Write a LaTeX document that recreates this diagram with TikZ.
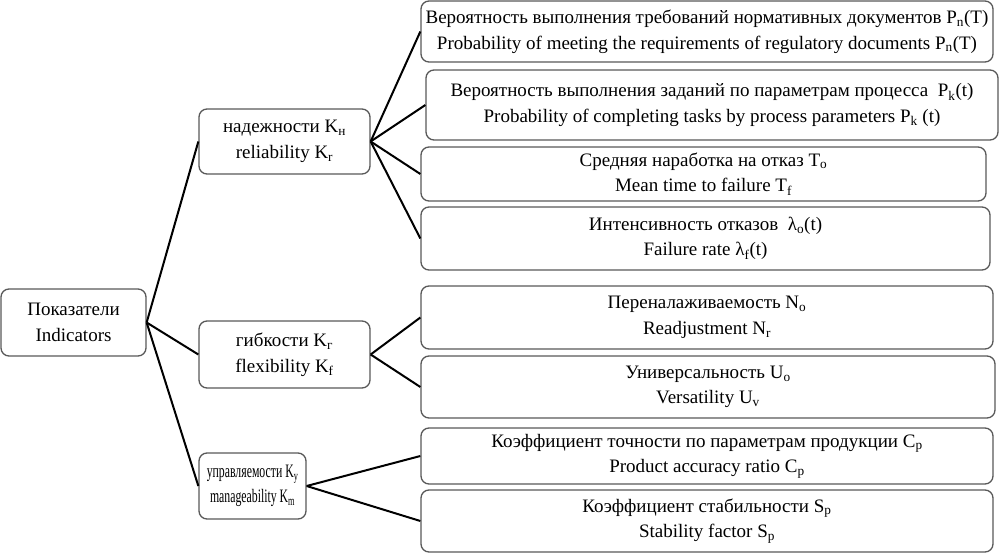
\documentclass[tikz,border=0pt]{standalone}
\usepackage{fontspec}
\setmainfont{Liberation Serif}
\usepackage{graphicx}
\usepackage{tikz}
\usetikzlibrary{positioning,calc}

\newcommand{\sub}[1]{\textsubscript{#1}}
\newcommand{\narrow}[1]{\scalebox{0.62}[1]{#1}}

\tikzset{
    box/.style={draw=black!65, line width=1.3pt, rounded corners=8pt, fill=white,
        align=center, inner sep=0pt, font=\fontsize{19}{25.5}\selectfont},
    link/.style={line width=2pt, black}
}

\begin{document}
\begin{tikzpicture}[x=1pt, y=-1pt]
    \useasboundingbox (0,0) rectangle (999,554);

    % root and the three groups
    \node[box, minimum width=145pt, minimum height=67pt] (ind) at (73.5,322.5) {Показатели\\Indicators};
    \node[box, minimum width=171pt, minimum height=65pt] (rel) at (284.5,141.5) {надежности K\sub{н}\\reliability K\sub{r}};
    \node[box, minimum width=171pt, minimum height=67pt] (flex) at (284.5,354.5) {гибкости K\sub{г}\\flexibility K\sub{f}};
    \node[box, minimum width=107pt, minimum height=66pt] (man) at (252.5,486) {\narrow{управляемости K\sub{у}}\\\narrow{manageability K\sub{m}}};

    % indicators
    \node[box, minimum width=572pt, minimum height=61pt] (pn) at (707,31.5) {Вероятность выполнения требований нормативных документов P\sub{n}(T)\\Probability of meeting the requirements of regulatory documents P\sub{n}(T)};
    \node[box, minimum width=572pt, minimum height=70pt] (pk) at (712,105) {Вероятность выполнения заданий по параметрам процесса\ \ P\sub{k}(t)\\Probability of completing tasks by process parameters P\sub{k} (t)};
    \node[box, minimum width=565pt, minimum height=54pt] (to) at (703.5,174) {Средняя наработка на отказ T\sub{o}\\Mean time to failure T\sub{f}};
    \node[box, minimum width=569pt, minimum height=63pt] (lam) at (705.5,238.5) {Интенсивность отказов\ \ λ\sub{o}(t)\\Failure rate λ\sub{f}(t)};
    \node[box, minimum width=572pt, minimum height=63pt] (no) at (707,317.5) {Переналаживаемость N\sub{o}\\Readjustment N\sub{r}};
    \node[box, minimum width=574pt, minimum height=62pt] (uo) at (708,387) {Универсальность U\sub{o}\\Versatility U\sub{v}};
    \node[box, minimum width=572pt, minimum height=56pt] (cp) at (707,456) {Коэффициент точности по параметрам продукции C\sub{p}\\Product accuracy ratio C\sub{p}};
    \node[box, minimum width=572pt, minimum height=62pt] (sp) at (707,521) {Коэффициент стабильности S\sub{p}\\Stability factor S\sub{p}};

    % connectors
    \foreach \g in {rel,flex,man}
        \draw[link] (ind.east) -- (\g.west);
    \foreach \i in {pn,pk,to,lam}
        \draw[link] (rel.east) -- (\i.west);
    \foreach \i in {no,uo}
        \draw[link] (flex.east) -- (\i.west);
    \foreach \i in {cp,sp}
        \draw[link] (man.east) -- (\i.west);
\end{tikzpicture}
\end{document}
